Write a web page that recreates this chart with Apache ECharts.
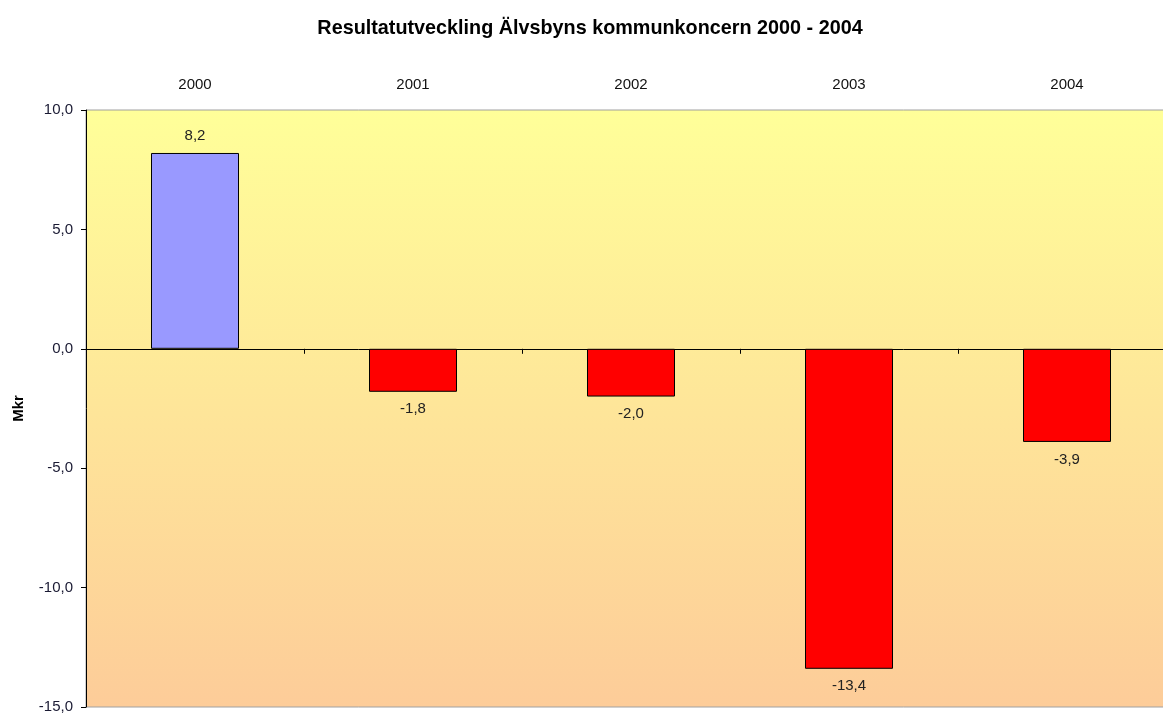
<!DOCTYPE html>
<html lang="sv">
<head>
    <meta charset="UTF-8">
    <script src="https://cdn.jsdelivr.net/npm/echarts@6/dist/echarts.min.js"></script>
    <title>Resultatutveckling</title>
</head>
<body style="margin:0;background:#fff;overflow:hidden;">
    <!-- något bredare än fönstret: sista kategorin ska gå utanför bilden -->
    <div id="main" style="width: 1180px; height: 715px;"></div>
    <script>
        // data
        var years = ['2000', '2001', '2002', '2003', '2004'];
        var result = [8.2, -1.8, -2.0, -13.4, -3.9];   // Mkr
        var yTicks = [-15, -10, -5, 0, 5, 10];

        function komma(v) {
            return v.toFixed(1).replace('.', ',');
        }

        // staplar: blå om positiv, röd om negativ
        var barData = result.map(function (v) {
            return {
                value: v,
                itemStyle: { color: v >= 0 ? '#9999FF' : '#FF0000' },
                label: { position: v >= 0 ? 'top' : 'bottom' }
            };
        });

        var myChart = echarts.init(document.getElementById('main'));
        var option = {
            backgroundColor: '#fff',
            title: {
                text: 'Resultatutveckling Älvsbyns kommunkoncern 2000 - 2004',
                left: 'center',
                top: 14,
                textStyle: { fontFamily: 'Liberation Sans', fontSize: 19.8, fontWeight: 'bold', color: '#000' }
            },
            grid: {
                left: 86,
                right: 4,
                top: 110,
                bottom: 8,
                show: true,
                borderColor: '#A0A0A0',
                borderWidth: 1,
                backgroundColor: {
                    type: 'linear', x: 0, y: 0, x2: 0, y2: 1,
                    colorStops: [
                        { offset: 0, color: '#FFFF99' },
                        { offset: 1, color: '#FDCC99' }
                    ]
                }
            },
            xAxis: [
                {   // axel vid noll med streck
                    type: 'category',
                    data: years,
                    position: 'bottom',
                    axisLine: { onZero: true, lineStyle: { color: '#000', width: 1 } },
                    axisTick: { show: true, length: 5, lineStyle: { color: '#000' } },
                    axisLabel: { show: false }
                },
                {   // årtal överst
                    type: 'category',
                    data: years,
                    position: 'top',
                    axisLine: { show: false },
                    axisTick: { show: false },
                    axisLabel: { margin: 18, fontFamily: 'Liberation Sans', fontSize: 15, color: '#111' }
                }
            ],
            yAxis: {
                type: 'value',
                min: yTicks[0],
                max: yTicks[yTicks.length - 1],
                interval: 5,
                name: 'Mkr',
                nameLocation: 'middle',
                nameGap: 60,
                nameTextStyle: { fontFamily: 'Liberation Sans', fontSize: 15, fontWeight: 'bold', color: '#000' },
                axisLine: { show: true, lineStyle: { color: '#000' } },
                axisTick: { show: true, length: 5, lineStyle: { color: '#000' } },
                splitLine: { show: false },
                axisLabel: {
                    margin: 13,
                    fontFamily: 'Liberation Sans',
                    fontSize: 15,
                    color: '#1a1a33',
                    formatter: function (v) { return komma(v); }
                }
            },
            series: [{
                type: 'bar',
                xAxisIndex: 0,
                data: barData,
                barWidth: 88,
                itemStyle: { borderColor: '#000', borderWidth: 1 },
                label: {
                    show: true,
                    distance: 10,
                    fontFamily: 'Liberation Sans',
                    fontSize: 15,
                    color: '#222',
                    formatter: function (p) { return komma(p.value); }
                }
            }]
        };
        myChart.setOption(option);
    </script>
</body>
</html>
